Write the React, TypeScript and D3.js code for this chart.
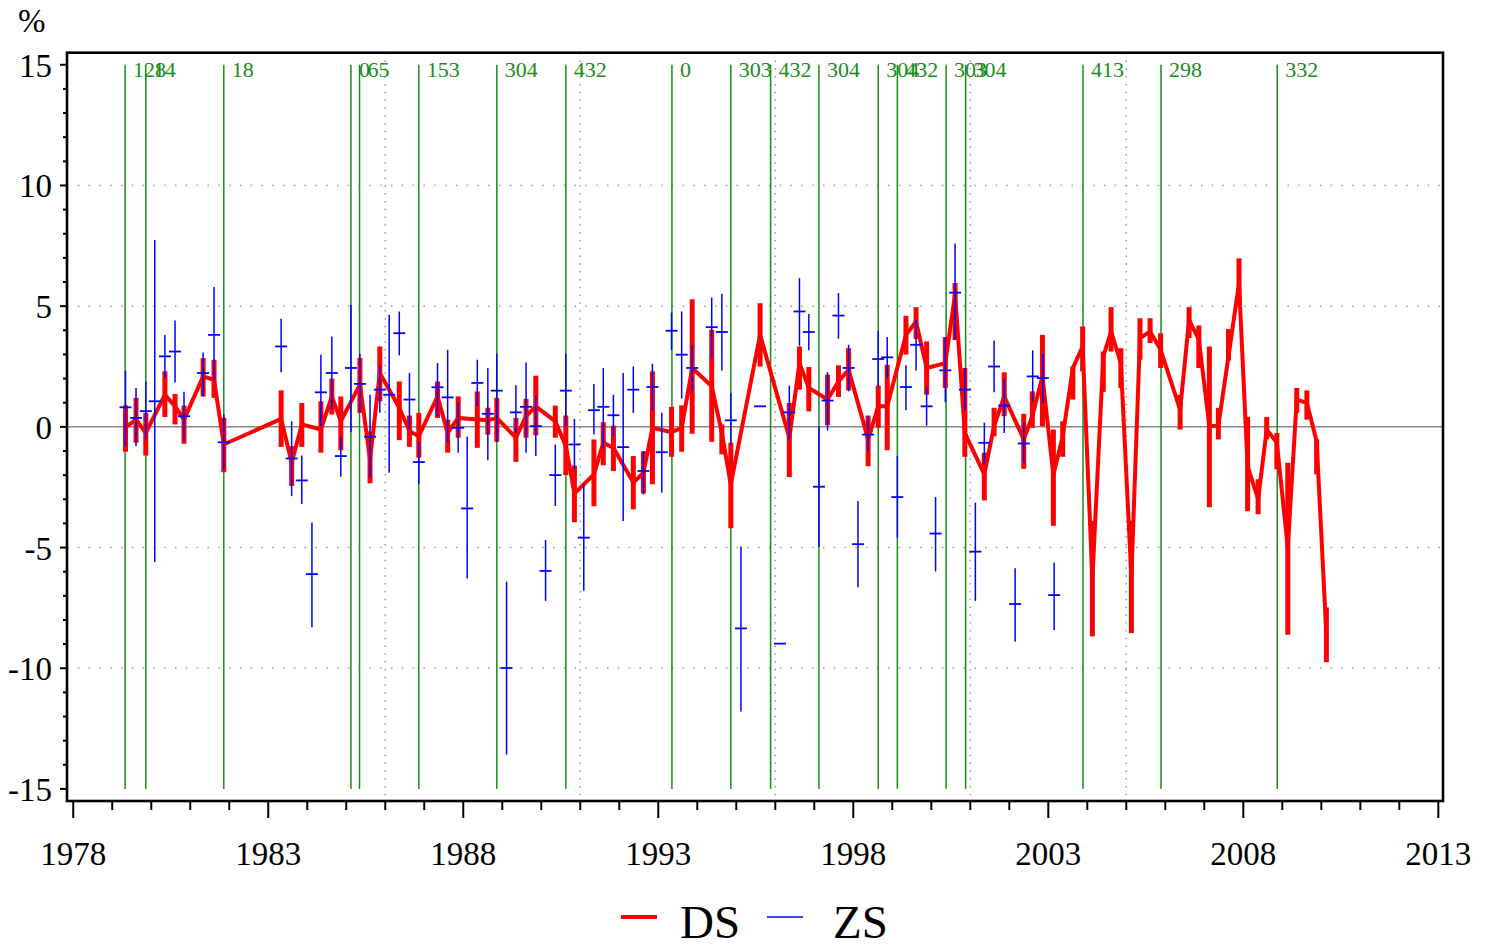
import React from 'react';
import * as d3 from 'd3';

// ---------- data ----------
// DS: [time, value, upper, lower]
const DS: [number, number, number, number][] = [
  [1979.34, -0.02, 0.89, -1.03], [1979.61, 0.30, 1.20, -0.66], [1979.86, -0.25, 0.58, -1.19],
  [1980.35, 1.33, 2.30, 0.41], [1980.61, 0.85, 1.36, 0.10], [1980.84, 0.30, 0.88, -0.70],
  [1981.33, 2.09, 2.85, 1.26], [1981.61, 1.95, 2.78, 1.20], [1981.86, -0.73, 0.37, -1.88],
  [1983.33, 0.33, 1.51, -0.83], [1983.60, -1.49, -0.80, -2.45], [1983.86, 0.10, 0.99, -0.83],
  [1984.35, -0.11, 1.06, -1.07], [1984.63, 1.26, 2.00, 0.51], [1984.86, 0.23, 1.26, -0.97],
  [1985.35, 1.75, 2.85, 0.58], [1985.61, -1.35, -0.19, -2.34], [1985.86, 2.23, 3.33, 1.06],
  [1986.36, 0.79, 1.88, -0.55], [1986.62, -0.18, 0.47, -0.83], [1986.86, -0.39, 0.58, -1.28],
  [1987.34, 1.26, 1.88, 0.37], [1987.60, -0.25, 0.30, -1.07], [1987.87, 0.37, 1.26, -0.45],
  [1988.36, 0.30, 1.47, -0.87], [1988.63, 0.27, 0.79, -0.32], [1988.86, 0.37, 1.20, -0.62],
  [1989.35, -0.45, 0.37, -1.45], [1989.61, 0.44, 1.16, -0.45], [1989.86, 0.85, 2.12, -0.35],
  [1990.36, 0.23, 0.88, -0.45], [1990.63, -0.80, 0.47, -2.0], [1990.85, -2.76, -1.60, -3.95],
  [1991.35, -1.97, -0.52, -3.29], [1991.59, -0.66, 0.19, -1.59], [1991.85, -0.87, 0.05, -1.83],
  [1992.36, -2.31, -1.21, -3.42], [1992.62, -1.90, -1.01, -2.76], [1992.85, -0.04, 2.30, -2.38],
  [1993.34, -0.22, 0.83, -1.24], [1993.60, -0.04, 0.89, -1.03], [1993.87, 2.44, 5.29, -0.29],
  [1994.37, 1.68, 4.02, -0.62], [1994.63, -0.25, 0.10, -1.14], [1994.86, -2.38, -0.66, -4.20],
  [1995.61, 3.81, 5.12, 2.50],
  [1996.36, -0.45, 0.99, -2.08], [1996.62, 2.64, 3.33, 1.54], [1996.86, 1.61, 2.48, 0.64],
  [1997.34, 1.13, 2.16, 0.07], [1997.62, 1.88, 2.55, 1.24], [1997.88, 2.37, 3.26, 1.51],
  [1998.38, -0.52, 0.47, -1.63], [1998.64, 0.85, 1.71, -0.04], [1998.87, 0.85, 2.57, -0.97],
  [1999.35, 3.81, 4.60, 2.99], [1999.61, 4.36, 4.96, 3.64], [1999.88, 2.44, 3.54, 1.33],
  [2000.36, 2.64, 3.72, 1.61], [2000.61, 5.50, 5.96, 3.60], [2000.86, -0.25, 2.44, -1.24],
  [2001.36, -1.97, -1.07, -3.05], [2001.61, 0.03, 0.79, -0.39], [2001.87, 1.26, 2.26, 0.44],
  [2002.37, -0.52, 0.54, -1.74], [2002.59, 0.44, 1.47, -0.04], [2002.85, 2.09, 3.81, 0.03],
  [2003.13, -2.0, -0.11, -4.1], [2003.37, -0.39, 0.23, -1.24], [2003.63, 2.44, 2.50, 1.13],
  [2003.88, 3.33, 4.16, 2.30],
  [2004.13, -6.3, -3.9, -8.68], [2004.41, 2.92, 3.12, 1.45], [2004.61, 3.95, 4.96, 3.12],
  [2004.86, 2.64, 3.26, 1.61],
  [2005.13, -6.2, -3.9, -8.54], [2005.35, 3.68, 4.50, 2.78], [2005.61, 3.95, 4.50, 3.47],
  [2005.88, 3.19, 3.88, 2.44],
  [2006.38, 0.71, 1.33, -0.11], [2006.61, 4.43, 4.96, 3.68], [2006.86, 3.61, 4.20, 2.44],
  [2007.13, 0.03, 3.33, -3.33], [2007.36, 0.05, 0.79, -0.52], [2007.62, 2.92, 4.05, 2.75],
  [2007.89, 5.95, 6.98, 5.12],
  [2008.11, -1.63, 0.41, -3.49], [2008.38, -3.0, -2.17, -3.62], [2008.60, -0.11, 0.41, -0.52],
  [2008.86, -0.66, -0.25, -1.76],
  [2009.14, -5.0, -1.49, -8.61], [2009.37, 1.13, 1.61, 0.58], [2009.63, 0.99, 1.51, 0.30],
  [2009.88, -0.60, -0.52, -1.97],
  [2010.13, -8.6, -7.48, -9.75],
];

// ZS: [time, value, upper, lower]
const ZS: [number, number, number, number][] = [
  [1979.34, 0.81, 2.33, -0.80], [1979.61, 0.37, 1.61, -0.80], [1979.86, 0.65, 1.88, -0.52],
  [1980.09, 1.06, 7.74, -5.6], [1980.35, 2.92, 3.81, 2.02], [1980.61, 3.12, 4.41, 1.84],
  [1980.84, 0.44, 1.45, -0.60], [1981.33, 2.23, 3.08, 1.26], [1981.61, 3.81, 5.79, 1.95],
  [1981.86, -0.64, 0.51, -1.76],
  [1983.33, 3.33, 4.48, 2.26], [1983.60, -1.31, 0.23, -2.87], [1983.86, -2.22, -1.19, -3.2],
  [1984.12, -6.1, -3.96, -8.3], [1984.35, 1.43, 2.99, 0.03], [1984.63, 2.23, 3.74, 0.71],
  [1984.86, -1.21, -0.41, -2.07], [1985.12, 2.44, 5.05, -0.21], [1985.35, 1.78, 3.03, 0.58],
  [1985.61, -0.41, 1.33, -2.11], [1985.86, 1.54, 2.53, 0.58], [1986.10, 1.33, 4.64, -1.90],
  [1986.36, 3.88, 4.78, 2.96], [1986.62, 1.13, 2.23, -0.11], [1986.86, -1.46, -0.62, -2.38],
  [1987.34, 1.64, 2.64, 0.44], [1987.60, 1.22, 3.19, -0.66], [1987.87, -0.04, 1.02, -1.07],
  [1988.10, -3.38, -0.41, -6.28], [1988.36, 1.82, 2.78, 0.85], [1988.63, 0.54, 2.44, -1.38],
  [1988.86, 1.50, 3.03, -0.62], [1989.11, -9.99, -6.41, -13.58], [1989.35, 0.60, 1.72, -0.25],
  [1989.61, 0.83, 2.67, -1.07], [1989.86, 0.03, 1.29, -1.21], [1990.11, -5.97, -4.69, -7.21],
  [1990.36, -2.0, -0.73, -3.28], [1990.63, 1.50, 3.03, 0.0], [1990.85, -0.73, 0.33, -1.76],
  [1991.09, -4.59, -2.38, -6.79], [1991.35, 0.69, 1.78, -0.32], [1991.59, 0.83, 2.44, -0.87],
  [1991.85, 0.48, 1.33, -0.39], [1992.10, -0.84, 2.23, -3.9], [1992.36, 1.54, 2.50, 0.58],
  [1992.62, -1.83, -1.01, -2.80], [1992.85, 1.65, 2.62, 0.69], [1993.09, -1.05, 0.58, -2.73],
  [1993.34, 3.98, 4.74, 3.19], [1993.60, 2.99, 4.78, 1.17], [1993.87, 2.44, 3.37, 1.47],
  [1994.37, 4.13, 5.36, 2.85], [1994.63, 3.93, 5.51, 2.33], [1994.86, 0.27, 1.40, -0.73],
  [1995.12, -8.35, -4.96, -11.79], [1995.61, 0.85, 0.85, 0.85], [1996.12, -8.98, -8.98, -8.98],
  [1996.36, 0.60, 1.71, -0.50], [1996.62, 4.78, 6.16, 3.36], [1996.86, 3.93, 4.68, 3.17],
  [1997.12, -2.48, 0.03, -4.98], [1997.34, 1.09, 2.26, -0.15], [1997.62, 4.61, 5.54, 3.65],
  [1997.88, 2.44, 3.40, 1.47], [1998.12, -4.86, -3.07, -6.65], [1998.38, -0.32, 0.44, -1.01],
  [1998.64, 2.81, 3.98, 1.68], [1998.87, 2.88, 3.72, 2.02], [1999.13, -2.91, -1.21, -4.59],
  [1999.35, 1.65, 2.55, 0.69], [1999.61, 3.40, 4.43, 2.33], [1999.88, 0.85, 1.65, 0.05],
  [2000.11, -4.42, -2.91, -5.99], [2000.36, 2.34, 3.72, 1.02], [2000.61, 5.56, 7.60, 3.61],
  [2000.86, 1.54, 2.44, 0.69], [2001.13, -5.17, -3.14, -7.21], [2001.36, -0.66, 0.17, -1.56],
  [2001.61, 2.50, 3.58, 1.43], [2001.87, 0.88, 1.98, -0.25], [2002.15, -7.34, -5.86, -8.90],
  [2002.37, -0.69, 0.19, -1.49], [2002.60, 2.09, 3.17, 1.06], [2002.86, 2.02, 3.03, 0.99],
  [2003.15, -6.97, -5.62, -8.42],
];

// event markers: [time, label]
const EVENTS: [number, string][] = [
  [1979.33, '128'], [1979.86, '14'], [1981.86, '18'], [1985.12, '0'], [1985.34, '65'],
  [1986.86, '153'], [1988.86, '304'], [1990.63, '432'], [1993.35, '0'], [1994.86, '303'],
  [1995.88, '432'], [1997.12, '304'], [1998.64, '304'], [1999.13, '432'], [2000.38, '303'],
  [2000.88, '304'], [2003.89, '413'], [2005.89, '298'], [2008.87, '332'],
];

const X_MAJOR = [1978, 1983, 1988, 1993, 1998, 2003, 2008, 2013];
const Y_MAJOR = [-15, -10, -5, 0, 5, 10, 15];
const Y_GRID = [-10, -5, 5, 10];
const X_GRID = [1986, 1991, 1996, 2001, 2005];
const X_DOMAIN: [number, number] = [1977.84, 2013.12];
const Y_DOMAIN: [number, number] = [-15.5, 15.5];

const W = 1489, H = 945;
const L = 67, R = 1443, T = 52.7, B = 801;
const FONT = "'Liberation Serif', 'Times New Roman', serif";

export default function App() {
  const x = d3.scaleLinear().domain(X_DOMAIN).range([L, R]);
  const y = d3.scaleLinear().domain(Y_DOMAIN).range([B, T]);
  const xMinor = d3.range(X_MAJOR[0], X_MAJOR[X_MAJOR.length - 1] + 1);
  const yMinor = d3.range(Y_MAJOR[0], Y_MAJOR[Y_MAJOR.length - 1] + 1);
  const line = d3.line<[number, number, number, number]>().x(d => x(d[0])).y(d => y(d[1]));

  return (
    <svg width={W} height={H} style={{ position: 'absolute', left: 0, top: 0, background: '#fff' }}
      fontFamily={FONT}>
      {/* dotted grid */}
      {Y_GRID.map(v => (
        <line key={'hg' + v} x1={L} x2={R} y1={y(v)} y2={y(v)} stroke="#999" strokeWidth={1.5}
          strokeDasharray="1.5 9.3" />
      ))}
      {X_GRID.map(v => (
        <line key={'vg' + v} x1={x(v)} x2={x(v)} y1={T} y2={B} stroke="#999" strokeWidth={1.5}
          strokeDasharray="1.5 6.3" />
      ))}
      {/* zero line */}
      <line x1={L} x2={R} y1={y(0)} y2={y(0)} stroke="#888" strokeWidth={1.5} />
      {/* events */}
      {EVENTS.map(([t, lab], i) => (
        <g key={'ev' + i}>
          <line x1={x(t)} x2={x(t)} y1={y(15)} y2={y(-15)} stroke="#1a8c1a" strokeWidth={1.5} />
          <text x={x(t) + 8} y={77} fontSize={22} fill="#1a8c1a">{lab}</text>
        </g>
      ))}
      {/* DS */}
      <path d={line(DS) || ''} fill="none" stroke="#ff0000" strokeWidth={4} strokeLinejoin="miter"
        strokeMiterlimit={3} />
      {DS.map((d, i) => (
        <line key={'dse' + i} x1={x(d[0])} x2={x(d[0])} y1={y(d[2])} y2={y(d[3])} stroke="#ff0000"
          strokeWidth={5} />
      ))}
      {/* ZS */}
      {ZS.map((d, i) => (
        <g key={'zs' + i}>
          {d[2] !== d[3] && (
            <line x1={x(d[0])} x2={x(d[0])} y1={y(d[2])} y2={y(d[3])} stroke="#0000ff" strokeWidth={1.5} />
          )}
          <line x1={x(d[0]) - 6} x2={x(d[0]) + 6} y1={y(d[1])} y2={y(d[1])} stroke="#0000ff" strokeWidth={1.8} />
        </g>
      ))}
      {/* frame */}
      <rect x={L} y={T} width={R - L} height={B - T} fill="none" stroke="#000" strokeWidth={2.6} />
      {/* y ticks */}
      {yMinor.map(v => (
        <line key={'yt' + v} x1={L} x2={L - (v % 5 === 0 ? 7 : 4)} y1={y(v)} y2={y(v)} stroke="#000"
          strokeWidth={2} />
      ))}
      {Y_MAJOR.map(v => (
        <text key={'yl' + v} x={52} y={y(v) + 12} fontSize={33} textAnchor="end" fill="#000">{v}</text>
      ))}
      {/* x ticks */}
      {xMinor.map(v => (
        <line key={'xt' + v} x1={x(v)} x2={x(v)} y1={B} y2={B + ((v - 1978) % 5 === 0 ? 17 : 9)}
          stroke="#000" strokeWidth={2} />
      ))}
      {X_MAJOR.map(v => (
        <text key={'xl' + v} x={x(v)} y={865} fontSize={33} textAnchor="middle" fill="#000">{v}</text>
      ))}
      {/* unit */}
      <text x={18} y={32} fontSize={33} fill="#000">%</text>
      {/* legend */}
      <line x1={621} x2={657} y1={917} y2={917} stroke="#ff0000" strokeWidth={4} />
      <text x={680} y={938} fontSize={47} fill="#000">DS</text>
      <line x1={767} x2={803} y1={917} y2={917} stroke="#0000ff" strokeWidth={1.5} />
      <text x={833} y={938} fontSize={47} fill="#000">ZS</text>
    </svg>
  );
}
